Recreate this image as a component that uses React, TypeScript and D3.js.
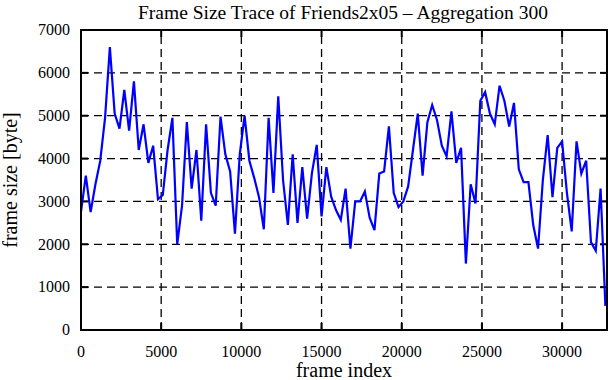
import React, { useRef, useEffect } from 'react';
import * as d3 from 'd3';

// frame size (bytes), one value per 300 aggregated frames
const AGGREGATION = 300;
const frameSizes = [
  2760, 3600, 2750, 3400, 3950, 4950, 6600, 5050, 4700, 5600,
  4650, 5800, 4200, 4800, 3900, 4300, 3050, 3150, 4200, 4950,
  2000, 2900, 4850, 3300, 4200, 2550, 4800, 3200, 2900, 4980,
  4100, 3700, 2250, 4100, 5000, 3950, 3550, 3100, 2350, 4950,
  3200, 5450, 3500, 2450, 4100, 2500, 3800, 2600, 3660, 4320,
  2650, 3800, 3110, 2800, 2570, 3300, 1900, 3000, 3000, 3230,
  2620, 2330, 3650, 3700, 4750, 3200, 2870, 3000, 3350, 4200,
  5050, 3600, 4850, 5250, 4900, 4300, 4050, 5100, 3900, 4250,
  1550, 3400, 2950, 5350, 5550, 5050, 4800, 5700, 5350, 4750,
  5300, 3750, 3450, 3450, 2450, 1900, 3500, 4550, 3100, 4250,
  4400, 3200, 2300, 4400, 3650, 3950, 2050, 1850, 3300, 560,
];
const xTicks = [0, 5000, 10000, 15000, 20000, 25000, 30000];
const yTicks = [0, 1000, 2000, 3000, 4000, 5000, 6000, 7000];
const xMax = 32800;

const W = 611;
const H = 380;
const margin = { top: 30, right: 4, bottom: 50, left: 81 };
const FONT = '"Liberation Serif", "Times New Roman", serif';

export default function App() {
  const svgRef = useRef<SVGSVGElement>(null);

  useEffect(() => {
    if (!svgRef.current) return;
    const svg = d3.select(svgRef.current);
    svg.selectAll('*').remove();

    const innerW = W - margin.left - margin.right;
    const innerH = H - margin.top - margin.bottom;
    const data = frameSizes.map((v, i) => ({ frame: i * AGGREGATION, size: v }));

    const x = d3.scaleLinear().domain([0, xMax]).range([0, innerW]);
    const y = d3.scaleLinear().domain([0, 7000]).range([innerH, 0]);

    const g = svg.append('g')
      .attr('transform', `translate(${margin.left},${margin.top})`);

    // dashed grid
    g.append('g').selectAll('line')
      .data(yTicks.slice(1, -1))
      .enter().append('line')
      .attr('x1', 0).attr('x2', innerW)
      .attr('y1', d => y(d)).attr('y2', d => y(d))
      .attr('stroke', '#000').attr('stroke-width', 1.3)
      .attr('stroke-dasharray', '8,5');
    g.append('g').selectAll('line')
      .data(xTicks.slice(1))
      .enter().append('line')
      .attr('x1', d => x(d)).attr('x2', d => x(d))
      .attr('y1', innerH).attr('y2', 0)
      .attr('stroke', '#000').attr('stroke-width', 1.3)
      .attr('stroke-dasharray', '8,5');

    // inward ticks on all four sides
    const tl = 7;
    const ticks = g.append('g').attr('stroke', '#000').attr('stroke-width', 2);
    yTicks.forEach(t => {
      ticks.append('line').attr('x1', 0).attr('x2', tl).attr('y1', y(t)).attr('y2', y(t));
      ticks.append('line').attr('x1', innerW - tl).attr('x2', innerW).attr('y1', y(t)).attr('y2', y(t));
    });
    xTicks.forEach(t => {
      ticks.append('line').attr('x1', x(t)).attr('x2', x(t)).attr('y1', innerH).attr('y2', innerH - tl);
      ticks.append('line').attr('x1', x(t)).attr('x2', x(t)).attr('y1', 0).attr('y2', tl);
    });

    // the trace
    const line = d3.line<{ frame: number; size: number }>()
      .x(d => x(d.frame))
      .y(d => y(d.size));
    g.append('path')
      .datum(data)
      .attr('fill', 'none')
      .attr('stroke', '#0000ff')
      .attr('stroke-width', 2.2)
      .attr('stroke-linejoin', 'miter')
      .attr('d', line);

    // frame
    g.append('rect')
      .attr('width', innerW).attr('height', innerH)
      .attr('fill', 'none').attr('stroke', '#000').attr('stroke-width', 2);

    // tick labels
    g.append('g').selectAll('text')
      .data(yTicks)
      .enter().append('text')
      .attr('x', -11).attr('y', d => y(d)).attr('dy', '0.33em')
      .attr('text-anchor', 'end')
      .attr('font-family', FONT).attr('font-size', 16)
      .text(d => String(d));
    g.append('g').selectAll('text')
      .data(xTicks)
      .enter().append('text')
      .attr('x', d => x(d)).attr('y', innerH + 27)
      .attr('text-anchor', 'middle')
      .attr('font-family', FONT).attr('font-size', 16)
      .text(d => String(d));

    // titles
    svg.append('text')
      .attr('x', 343).attr('y', 19)
      .attr('text-anchor', 'middle')
      .attr('font-family', FONT).attr('font-size', 19.5)
      .text('Frame Size Trace of Friends2x05 \u2013 Aggregation 300');
    svg.append('text')
      .attr('x', 344).attr('y', 377)
      .attr('text-anchor', 'middle')
      .attr('font-family', FONT).attr('font-size', 20)
      .text('frame index');
    svg.append('text')
      .attr('transform', `translate(17,${margin.top + innerH / 2}) rotate(-90)`)
      .attr('text-anchor', 'middle')
      .attr('font-family', FONT).attr('font-size', 20)
      .text('frame size [byte]');
  }, []);

  return (
    <svg
      ref={svgRef}
      width={W}
      height={H}
      style={{ position: 'absolute', left: 0, top: 0, background: '#fff' }}
    />
  );
}
